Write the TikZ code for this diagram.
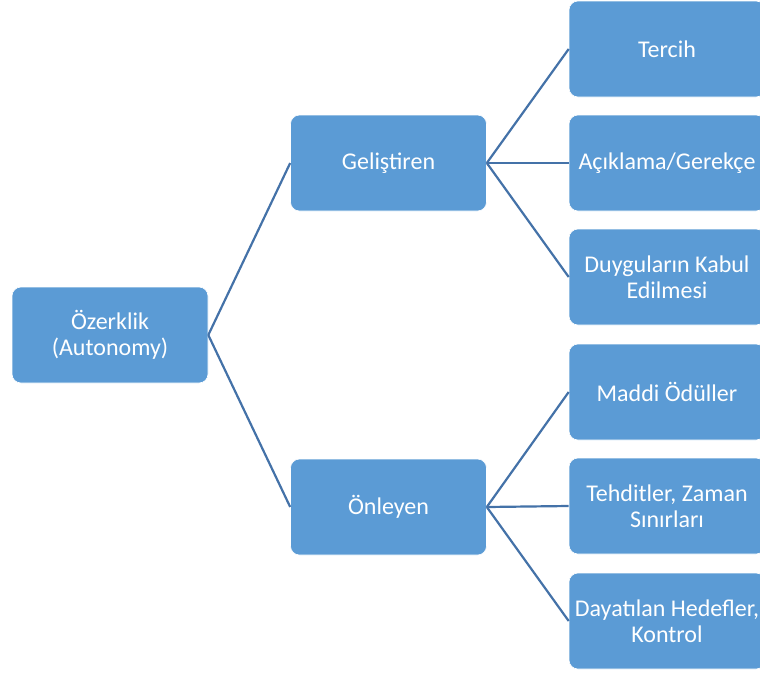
\documentclass[tikz,border=0pt]{standalone}
\usepackage{fontspec}
\setmainfont{Carlito}
\definecolor{boxblue}{HTML}{5B9BD5}
\definecolor{lineblue}{HTML}{4472A8}
\begin{document}
\begin{tikzpicture}[x=1pt,y=-1pt,
  box/.style={draw=white, line width=0.6pt, fill=boxblue, rounded corners=9pt,
    minimum width=196pt, minimum height=96pt, text=white,
    font=\fontsize{24}{25.5}\selectfont, align=center, inner sep=0pt},
  link/.style={draw=lineblue, line width=2.2pt}]
\useasboundingbox (0,0) rectangle (760,675);
\clip (0,0) rectangle (760,675);
\node[box] (root) at (110,335) {Özerklik\\(Autonomy)};
\node[box] (gel) at (388.5,163) {Geliştiren};
\node[box] (onl) at (388.5,507) {Önleyen};
\node[box] (t1) at (667,49) {Tercih};
\node[box] (t2) at (667,163) {Açıklama/Gerekçe};
\node[box] (t3) at (667,277) {Duyguların Kabul\\Edilmesi};
\node[box] (t4) at (667,392) {Maddi Ödüller};
\node[box] (t5) at (667,506) {Tehditler, Zaman\\Sınırları};
\node[box] (t6) at (667,621) {Dayatılan Hedefler,\\Kontrol};
\draw[link] (root.east) -- (gel.west);
\draw[link] (root.east) -- (onl.west);
\draw[link] (gel.east) -- (t1.west);
\draw[link] (gel.east) -- (t2.west);
\draw[link] (gel.east) -- (t3.west);
\draw[link] (onl.east) -- (t4.west);
\draw[link] (onl.east) -- (t5.west);
\draw[link] (onl.east) -- (t6.west);
\end{tikzpicture}
\end{document}
